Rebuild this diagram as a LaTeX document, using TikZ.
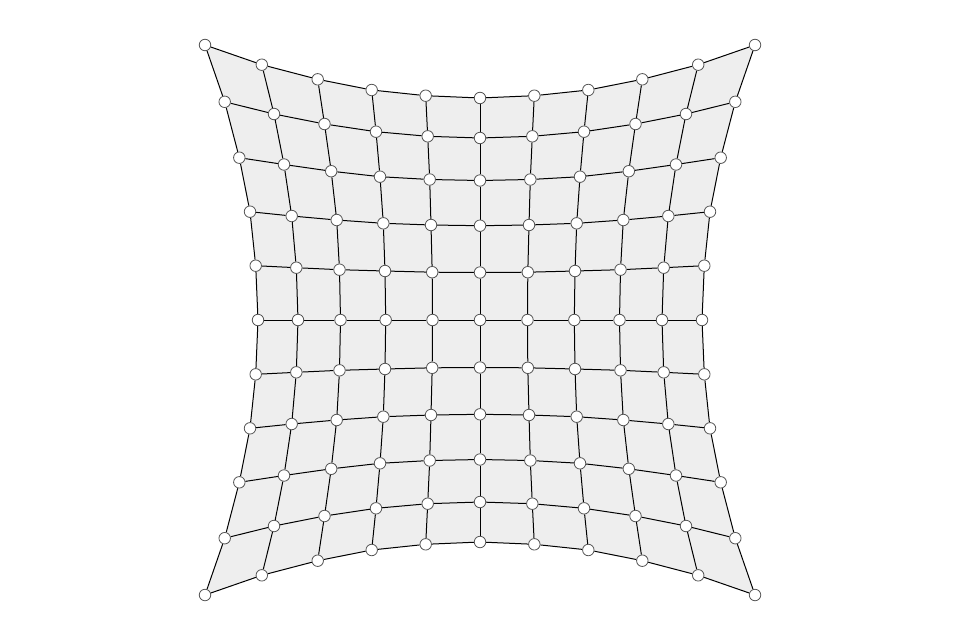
\documentclass[tikz,border=0pt]{standalone}
\usetikzlibrary{backgrounds}
\definecolor{cellfill}{HTML}{EEEEEE}
\definecolor{dotline}{HTML}{555555}
\begin{document}
\begin{tikzpicture}[x=1pt,y=-1pt,
  dot/.style={circle,draw=dotline,fill=white,line width=0.8pt,inner sep=0pt,minimum size=11.5pt},
  gridline/.style={draw=black,line width=1pt}]
\useasboundingbox (0,0) rectangle (960,640);
% X offsets table, index 6*j+i (i = column distance, j = row distance from centre)
\def\XT{{0,47.5,94.3,139.5,182,222,
         0,47.8,95,140.5,183.7,224.3,
         0,49,96.7,143.3,188.3,230,
         0,50.3,100,148.8,196,240.7,
         0,52.3,104,155.5,206,255.3,
         0,54.3,108.3,162.3,218.2,275}}
\foreach \c in {0,...,10}{
  \foreach \r in {0,...,10}{
    \pgfmathtruncatemacro\ii{\c-5}
    \pgfmathtruncatemacro\jj{5-\r}
    \pgfmathtruncatemacro\ai{abs(\ii)}
    \pgfmathtruncatemacro\aj{abs(\jj)}
    \pgfmathsetmacro\px{480+sign(\ii)*\XT[6*\aj+\ai]}
    \pgfmathsetmacro\py{320-sign(\jj)*\XT[6*\ai+\aj]}
    \node[dot] (n-\c-\r) at (\px,\py) {};
  }
}
\begin{scope}[on background layer]
  \fill[cellfill] (n-0-0.center)
    \foreach \c in {1,...,10}{ -- (n-\c-0.center)}
    \foreach \r in {1,...,10}{ -- (n-10-\r.center)}
    \foreach \c in {9,...,0}{ -- (n-\c-10.center)}
    \foreach \r in {9,...,1}{ -- (n-0-\r.center)} -- cycle;
  \foreach \c [evaluate=\c as \cn using int(\c+1)] in {0,...,9}{
    \foreach \r in {0,...,10}{
      \draw[gridline] (n-\c-\r) -- (n-\cn-\r);
      \draw[gridline] (n-\r-\c) -- (n-\r-\cn);
    }
  }
\end{scope}
\end{tikzpicture}
\end{document}
